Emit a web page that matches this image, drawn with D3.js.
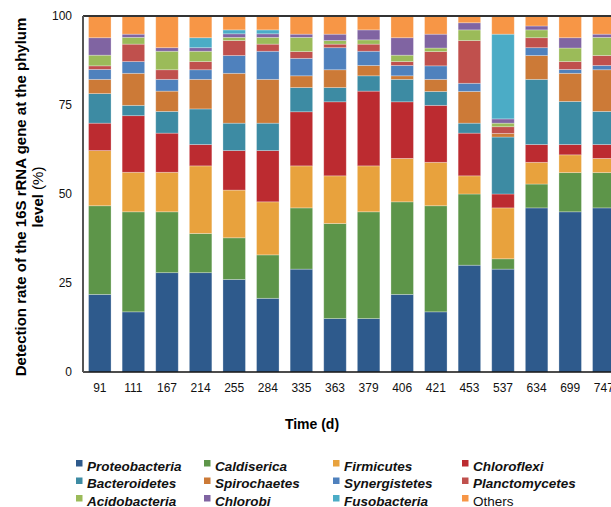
<!DOCTYPE html>
<html>
<head>
<meta charset="utf-8">
<script src="https://cdn.jsdelivr.net/npm/d3@7"></script>
<style>
  body { margin: 0; background: #fff; }
  svg { display: block; font-family: "Liberation Sans", Arial, sans-serif; }
</style>
</head>
<body>
<svg id="chart" width="611" height="507"></svg>
<script>
// sampling days (x categories)
const days = ["91", "111", "167", "214", "255", "284", "335", "363", "379", "406", "421", "453", "537", "634", "699", "747"]

// phyla, bottom to top of each stack
const phyla = ["Proteobacteria", "Caldiserica", "Firmicutes", "Chloroflexi", "Bacteroidetes", "Spirochaetes",
  "Synergistetes", "Planctomycetes", "Acidobacteria", "Chlorobi", "Fusobacteria", "Others"]

// detection rate (%) per phylum, one value per day
const proteobacteria = [21.8, 16.9, 27.9, 27.9, 26.0, 20.7, 28.9, 15.0, 15.0, 21.8, 16.9, 30.0, 28.9, 46.1, 45.0, 46.1]
const caldiserica    = [24.9, 28.1, 17.1, 11.0, 11.7, 12.2, 17.2, 26.7, 30.0, 26.0, 29.8, 20.0, 2.9, 6.7, 11.0, 9.9]
const firmicutes     = [15.5, 11.1, 11.1, 19.0, 13.4, 14.9, 11.8, 13.4, 12.9, 12.2, 12.2, 5.1, 14.3, 6.1, 5.0, 4.0]
const chloroflexi    = [7.7, 15.9, 11.0, 6.0, 11.1, 14.4, 15.2, 20.8, 21.0, 15.9, 16.0, 12.0, 3.9, 5.0, 2.9, 3.9]
const bacteroidetes  = [8.3, 2.9, 6.1, 10.0, 7.7, 7.7, 6.8, 4.0, 4.3, 6.3, 3.9, 2.8, 16.0, 18.3, 12.1, 9.3]
const spirochaetes   = [4.0, 9.0, 5.7, 8.3, 14.0, 12.3, 3.3, 5.0, 2.9, 1.0, 3.4, 8.9, 1.0, 6.7, 7.9, 11.7]
const synergistetes  = [2.8, 3.3, 3.3, 2.7, 5.0, 7.9, 4.9, 6.2, 4.0, 2.9, 3.8, 2.3, 0, 2.2, 1.1, 1.2]
const planctomycetes = [1.0, 4.9, 2.7, 2.3, 4.2, 2.0, 1.9, 1.0, 2.0, 1.1, 4.0, 12.0, 1.9, 2.8, 2.2, 2.8]
const acidobacteria  = [3.0, 1.9, 5.2, 2.9, 0.9, 1.9, 4.0, 1.0, 1.2, 1.8, 1.0, 3.0, 1.0, 2.2, 3.8, 5.1]
const chlorobi       = [4.9, 0.9, 1.0, 1.0, 1.0, 1.0, 0.9, 1.8, 2.8, 4.9, 3.9, 2.0, 1.2, 1.1, 2.9, 0.9]
const fusobacteria   = [0, 0, 0, 2.8, 1.1, 1.1, 0, 0, 0, 0, 0, 0, 23.8, 0, 0, 0]
const others         = [6.1, 5.1, 8.9, 6.1, 3.9, 3.9, 5.1, 5.1, 3.9, 6.1, 5.1, 1.9, 5.1, 2.8, 6.1, 5.1]

const series_values = [proteobacteria, caldiserica, firmicutes, chloroflexi, bacteroidetes, spirochaetes,
  synergistetes, planctomycetes, acidobacteria, chlorobi, fusobacteria, others]

const y_ticks = [0, 25, 50, 75, 100]

const colors = ["#2e5a8c", "#5d9549", "#e8a23d", "#bc2b30", "#3d8ba3", "#cc7a37",
  "#4f81bd", "#c0504d", "#9bbb59", "#8064a2", "#4bacc6", "#f79646"]

/**
 * Table for d3.stack: one row per day
 */
const table = days.map((day, i) => {
  const row = { day: day }
  phyla.forEach((p, j) => { row[p] = series_values[j][i] })
  return row
})

const margin = { top: 16, left: 83, bottom: 135 }
const height = 507
const plot_bottom = height - margin.bottom

let svg = d3.select("#chart")

const xScale = d3.scaleBand()
  .domain(days)
  .range([margin.left, margin.left + days.length * 33.6])
  .paddingInner(0.33)
  .paddingOuter(0.165)

const yScale = d3.scaleLinear()
  .domain([0, 100])
  .range([plot_bottom, margin.top])

const stacked = d3.stack().keys(phyla)(table)

/**
 * Bars
 */
let layers = svg.append("g")
  .selectAll("g")
  .data(stacked)
  .enter()
  .append("g")
  .attr("fill", (d, i) => colors[i])

layers.selectAll("rect")
  .data(d => d)
  .enter()
  .append("rect")
  .attr("x", d => xScale(d.data.day))
  .attr("width", xScale.bandwidth())
  .attr("y", d => yScale(d[1]))
  .attr("height", d => yScale(d[0]) - yScale(d[1]))
  .attr("stroke", "#ffffff")
  .attr("stroke-opacity", 0.35)
  .attr("stroke-width", 0.8)

/**
 * Frame lines
 */
svg.append("line")
  .attr("x1", margin.left).attr("x2", 611)
  .attr("y1", margin.top).attr("y2", margin.top)
  .attr("stroke", "#333").attr("stroke-width", 2)

svg.append("line")
  .attr("x1", margin.left).attr("x2", 611)
  .attr("y1", plot_bottom).attr("y2", plot_bottom)
  .attr("stroke", "#111").attr("stroke-width", 1.5)

svg.append("line")
  .attr("x1", margin.left).attr("x2", margin.left)
  .attr("y1", margin.top).attr("y2", plot_bottom)
  .attr("stroke", "#555").attr("stroke-width", 2)

/**
 * Axes (labels only, no tick marks)
 */
let y_axis = d3.axisLeft(yScale).tickValues(y_ticks).tickSize(0).tickPadding(11)
let g_y = svg.append("g")
  .attr("transform", "translate(" + margin.left + ",0)")
  .call(y_axis)
g_y.select(".domain").remove()
g_y.selectAll("text").attr("font-size", 12).attr("fill", "#111").attr("font-family", "Liberation Sans, Arial, sans-serif")

let x_axis = d3.axisBottom(xScale).tickSize(0).tickPadding(11)
let g_x = svg.append("g")
  .attr("transform", "translate(0," + plot_bottom + ")")
  .call(x_axis)
g_x.select(".domain").remove()
g_x.selectAll("text").attr("font-size", 12).attr("fill", "#111").attr("font-family", "Liberation Sans, Arial, sans-serif")

/**
 * Axis titles
 */
svg.append("text")
  .attr("x", 312).attr("y", 429)
  .attr("text-anchor", "middle")
  .attr("font-size", 14).attr("font-weight", "bold")
  .text("Time (d)")

svg.append("text")
  .attr("transform", "translate(26,197) rotate(-90)")
  .attr("text-anchor", "middle")
  .attr("font-size", 15).attr("font-weight", "bold")
  .text("Detection rate of the 16S rRNA gene at the phylum")

let y_title_2 = svg.append("text")
  .attr("transform", "translate(43,197) rotate(-90)")
  .attr("text-anchor", "middle")
  .attr("font-size", 15)
y_title_2.append("tspan").attr("font-weight", "bold").text("level")
y_title_2.append("tspan").text(" (%)")

/**
 * Legend: 4 columns x 3 rows
 */
const legend_x = [76, 204, 333, 462]
const legend_y = [466, 483.5, 501]

let legend = svg.append("g")
  .selectAll("g")
  .data(phyla)
  .enter()
  .append("g")
  .attr("transform", (d, i) => "translate(" + legend_x[i % 4] + "," + legend_y[Math.floor(i / 4)] + ")")

legend.append("rect")
  .attr("x", 0).attr("y", -6)
  .attr("width", 6.5).attr("height", 6.5)
  .attr("fill", (d, i) => colors[i])

legend.append("text")
  .attr("x", 11).attr("y", 4.5)
  .attr("font-size", 13.5)
  .attr("font-weight", d => d === "Others" ? "normal" : "bold")
  .attr("font-style", d => d === "Others" ? "normal" : "italic")
  .attr("fill", "#111")
  .text(d => d)
</script>
</body>
</html>
